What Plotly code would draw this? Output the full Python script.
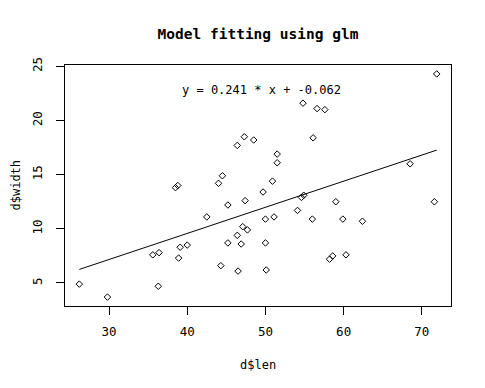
import plotly.graph_objects as go

# data
len_values = [26.2, 29.8, 35.6, 36.4, 36.3, 38.9, 39.1, 40.0, 38.5, 38.8,
              54.8, 56.6, 57.6, 47.3, 46.4, 48.5, 56.1, 51.5, 51.5, 44.5,
              44.0, 50.9, 71.9, 68.5, 49.7, 45.2, 47.4, 42.5, 54.6, 54.9,
              54.1, 56.0, 50.0, 51.1, 47.1, 47.7, 46.4, 45.2, 46.9, 50.0,
              44.3, 46.5, 50.1, 58.2, 59.0, 71.6, 59.9, 62.4, 58.6, 60.3]
width_values = [4.9, 3.7, 7.6, 7.8, 4.7, 7.3, 8.3, 8.5, 13.8, 14.0,
                21.6, 21.1, 21.0, 18.5, 17.7, 18.2, 18.4, 16.9, 16.1, 14.9,
                14.2, 14.4, 24.3, 16.0, 13.4, 12.2, 12.6, 11.1, 12.9, 13.1,
                11.7, 10.9, 10.9, 11.1, 10.2, 9.9, 9.4, 8.7, 8.6, 8.7,
                6.6, 6.1, 6.2, 7.2, 12.5, 12.5, 10.9, 10.7, 7.5, 7.6]
fit_slope = 0.241
fit_intercept = -0.062

title_text = "Model fitting using glm"
x_label = "d$len"
y_label = "d$width"
x_ticks = [30, 40, 50, 60, 70]
y_ticks = [5, 10, 15, 20, 25]

FONT = "DejaVu Sans Mono"

def ext_range(v):
    lo, hi = min(v), max(v)
    d = (hi - lo) * 0.04
    return [lo - d, hi + d]

xr = ext_range(len_values)
yr = ext_range(width_values)

xs = sorted(len_values)
line_x = [xs[0], xs[-1]]
line_y = [fit_intercept + fit_slope * v for v in line_x]

fig = go.Figure()
fig.add_trace(go.Scatter(
    x=len_values, y=width_values, mode="markers",
    marker=dict(symbol="diamond-open", size=5, color="black",
                line=dict(width=1, color="black")),
    showlegend=False, hoverinfo="skip"))
fig.add_trace(go.Scatter(
    x=line_x, y=line_y, mode="lines",
    line=dict(color="black", width=1), showlegend=False, hoverinfo="skip"))

fig.update_layout(
    width=485, height=388,
    margin=dict(l=65, r=34, t=65, b=82, autoexpand=False),
    paper_bgcolor="white", plot_bgcolor="white",
    font=dict(family=FONT, size=12, color="black"),
    title=dict(text=title_text, x=(65 + 451) / 2 / 485, xanchor="center",
               y=1 - 34 / 388, yanchor="middle", yref="container",
               font=dict(family=FONT, size=14.5, color="black", weight="bold")),
    xaxis=dict(range=xr, tickvals=x_ticks, showgrid=False, zeroline=False,
               showline=True, mirror=True, linecolor="black", linewidth=1,
               ticks="outside", ticklen=8, tickcolor="black",
               tickfont=dict(size=12.5), automargin=False,
               ticklabelstandoff=6),
    yaxis=dict(range=yr, tickvals=y_ticks, showgrid=False, zeroline=False,
               showline=True, mirror=True, linecolor="black", linewidth=1,
               ticks="outside", ticklen=8, tickcolor="black", tickangle=-90,
               tickfont=dict(size=12.5), automargin=False,
               ticklabelstandoff=9),
    annotations=[
        dict(text=x_label, xref="paper", yref="paper", x=0.5, y=(306 - 365) / 241,
             xanchor="center", yanchor="middle", showarrow=False,
             font=dict(size=12)),
        dict(text=y_label, xref="paper", yref="paper", x=(15 - 65) / 386, y=0.5,
             xanchor="center", yanchor="middle", textangle=-90, showarrow=False,
             font=dict(size=12)),
        dict(text="y = 0.241 * x + -0.062", xref="x", yref="y", x=49.45, y=22.8,
             xanchor="center", yanchor="middle", showarrow=False,
             font=dict(size=12)),
    ],
)

fig.write_html("out.html", config={"displayModeBar": False},
               post_script="document.body.style.margin='0';")
